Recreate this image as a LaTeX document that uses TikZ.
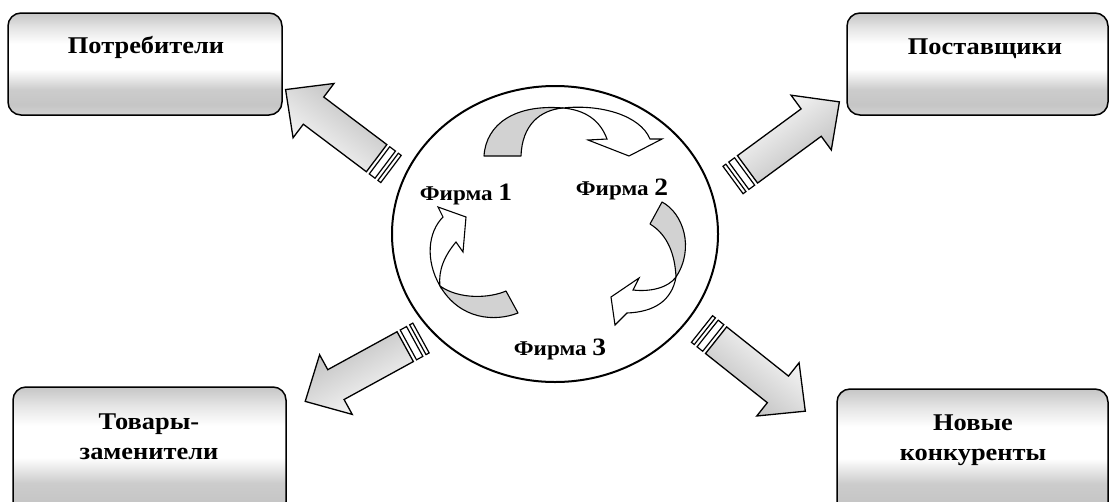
\documentclass[tikz,border=0pt]{standalone}
\usepackage{fontspec}
\setmainfont{Liberation Serif}[FakeStretch=1.1]
\usetikzlibrary{shapes.geometric}
\pgfdeclareverticalshading{boxshade}{100bp}{color(0bp)=(gray!35); color(25bp)=(gray!35); color(30bp)=(gray!45); color(37.5bp)=(gray!40); color(47.5bp)=(white); color(60bp)=(white); color(67.5bp)=(gray!20); color(75bp)=(gray!45); color(100bp)=(gray!45)}
\newcommand{\stripedarrow}[3]{%
  \begin{scope}[shift={(#1,#2)}, rotate=#3]
    \draw[stripe] (0,-17) rectangle (3.6,17);
    \draw[stripe] (7.2,-17) rectangle (14.4,17);
    \draw[bigarrow, shading angle=#3] (18,-17) -- (97,-17) -- (97,-34) -- (132,0) -- (97,34) -- (97,17) -- (18,17) -- cycle;
  \end{scope}}
\begin{document}
\begin{tikzpicture}[x=1pt,y=-1pt,
  boxnode/.style={draw, line width=1.5pt, rounded corners=13pt, shade, shading=boxshade, inner sep=0pt},
  boxtext/.style={font=\fontsize{24}{30}\selectfont\bfseries, align=center, inner sep=0pt},
  firmtext/.style={font=\fontsize{21}{25}\selectfont\bfseries, inner sep=0pt, anchor=base},
  ribgray/.style={draw, line width=1.1pt, line join=round, fill=gray!35},
  ribwhite/.style={draw, line width=1.1pt, line join=miter, fill=white},
  stripe/.style={draw, line width=1.2pt, fill=white},
  bigarrow/.style={draw, line width=1.3pt, line join=miter, left color=white, right color=gray!55}
]
\clip (0,0) rectangle (1110,501);
\fill[white] (0,0) rectangle (1110,501);

% boxes
\node[boxnode, minimum width=274pt, minimum height=102pt] (b1) at (145,64) {};
\node[boxnode, minimum width=261pt, minimum height=102pt] (b2) at (977.5,64) {};
\node[boxnode, minimum width=273pt, minimum height=128pt] (b3) at (149.5,451) {};
\node[boxnode, minimum width=271pt, minimum height=126pt] (b4) at (972.5,452) {};

\node[boxtext, anchor=base] (t1) at (146,53) {Потребители};
\node[boxtext, anchor=base] (t2) at (985,54) {Поставщики};
\node[boxtext] (t3) at (149,437) {Товары-\\заменители};
\node[boxtext] (t4) at (973,440) {Новые\\конкуренты};

% circle
\node[draw, ellipse, line width=2pt, minimum width=326pt, minimum height=296pt, inner sep=0pt] (c) at (555,234) {};

% big striped arrows
\stripedarrow{391}{169}{143}
\stripedarrow{733}{180}{36.3}
\stripedarrow{421}{338}{208.7}
\stripedarrow{702}{329}{-38.5}

% curved arrow: firm 1 -> firm 2
\draw[ribgray] (484,156) .. controls (486,124) and (515,104) .. (563,108)
  .. controls (540,110) and (522,125) .. (521,156) -- cycle;
\draw[ribwhite] (563,108) .. controls (600,104) and (640,115) .. (650,139)
  -- (662,139) -- (629,156) -- (588,140) -- (607,139)
  .. controls (600,120) and (585,110) .. (563,108) -- cycle;

% curved arrow: firm 2 -> firm 3
\draw[ribgray] (650,224) -- (662,202) .. controls (683,213) and (695,248) .. (676,277)
  .. controls (675,255) and (668,235) .. (650,224) -- cycle;
\draw[ribwhite] (676,277) .. controls (672,300) and (655,312) .. (627,313)
  -- (615,325) -- (611,297) -- (639,278) -- (633,290)
  .. controls (650,292) and (668,288) .. (676,277) -- cycle;

% curved arrow: firm 3 -> firm 1
\draw[ribgray] (506,291) -- (518,313) .. controls (495,322) and (460,320) .. (440,286)
  .. controls (460,300) and (490,298) .. (506,291) -- cycle;
\draw[ribwhite] (440,286) .. controls (425,260) and (428,232) .. (443,217)
  -- (438,207) -- (466,217) -- (463,252) -- (456,242)
  .. controls (445,255) and (438,270) .. (440,286) -- cycle;

% firm labels
\node[firmtext] (f1) at (466,200) {Фирма {\fontsize{25}{30}\selectfont 1}};
\node[firmtext] (f2) at (622,195) {Фирма {\fontsize{25}{30}\selectfont 2}};
\node[firmtext] (f3) at (560,355) {Фирма {\fontsize{25}{30}\selectfont 3}};
\end{tikzpicture}
\end{document}
